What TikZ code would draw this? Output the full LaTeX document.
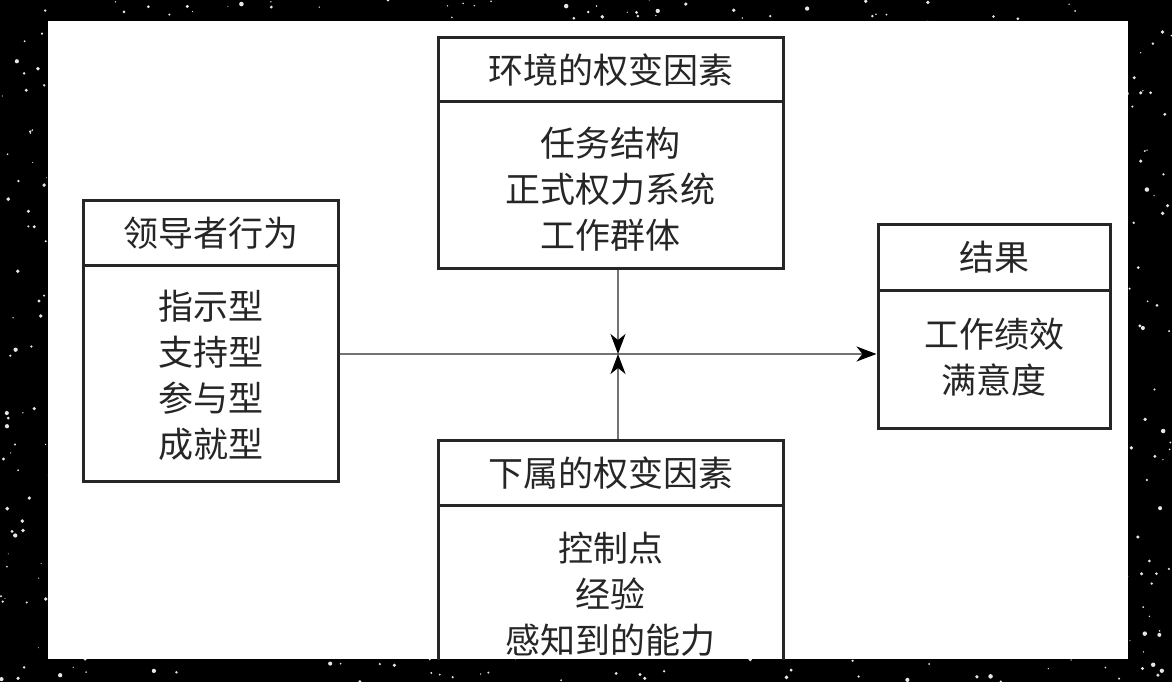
\documentclass[tikz,border=0pt]{standalone}
\usepackage{fontspec}
\newfontfamily\cjk{Noto Sans CJK SC}
\usetikzlibrary{arrows.meta}
\tikzset{
  boxpart/.style={draw=black!85, line width=3pt, rectangle, inner sep=0pt},
  boxtext/.style={align=center, font=\cjk\fontsize{35}{46}\selectfont, text=black!85, inner sep=0pt},
  conn/.style={draw=black!55, line width=2pt},
  arr/.style={conn, -{Stealth[length=20pt,width=15pt,inset=6pt,fill=black,color=black]}},
}
\begin{document}
\begin{tikzpicture}[x=1pt,y=-1pt]
\useasboundingbox (0,0) rectangle (1172,682);
% frame
\fill[black] (0,0) rectangle (1172,682);
\pgfmathsetseed{11}
\foreach \i in {1,...,1400}{
  \pgfmathsetmacro\xx{rnd*1172}
  \pgfmathsetmacro\yy{rnd*682}
  \pgfmathsetmacro\rr{0.5+rnd*1.8}
  \fill[white, opacity=0.9] (\xx,\yy) circle (\rr);
}
\fill[white] (48,21) rectangle (1128,659);
\begin{scope}
\clip (48,21) rectangle (1128,659);
% top box
\node[boxpart, minimum width=345pt, minimum height=64pt] (th) at (610.5,70) {};
\node[boxpart, minimum width=345pt, minimum height=166pt] (tb) at (610.5,185) {};
\node[boxtext] (tht) at (610.5,70) {环境的权变因素};
\node[boxtext] (tbt) at (610.5,189) {任务结构\\正式权力系统\\工作群体};
% left box
\node[boxpart, minimum width=255pt, minimum height=65pt] (lh) at (210.5,232.5) {};
\node[boxpart, minimum width=255pt, minimum height=216pt] (lb) at (210.5,373) {};
\node[boxtext] (lht) at (210.5,233) {领导者行为};
\node[boxtext] (lbt) at (210.5,375) {指示型\\支持型\\参与型\\成就型};
% right box
\node[boxpart, minimum width=232pt, minimum height=66pt] (rh) at (994,257) {};
\node[boxpart, minimum width=232pt, minimum height=138pt] (rb) at (994,359) {};
\node[boxtext] (rht) at (994,257) {结果};
\node[boxtext] (rbt) at (994,357) {工作绩效\\满意度};
% bottom box
\node[boxpart, minimum width=345pt, minimum height=65pt] (bh) at (610.5,472.5) {};
\node[boxpart, minimum width=345pt, minimum height=200pt] (bb) at (610.5,605) {};
\node[boxtext] (bht) at (610.5,473) {下属的权变因素};
\node[boxtext] (bbt) at (610.5,594) {控制点\\经验\\感知到的能力};
% connectors
\coordinate (J) at (618,354);
\draw[arr] (lb.east |- J) -- (rb.west |- J);
\draw[arr] (tb.south -| J) -- (J);
\draw[arr] (bh.north -| J) -- (J);
\end{scope}
\end{tikzpicture}
\end{document}
